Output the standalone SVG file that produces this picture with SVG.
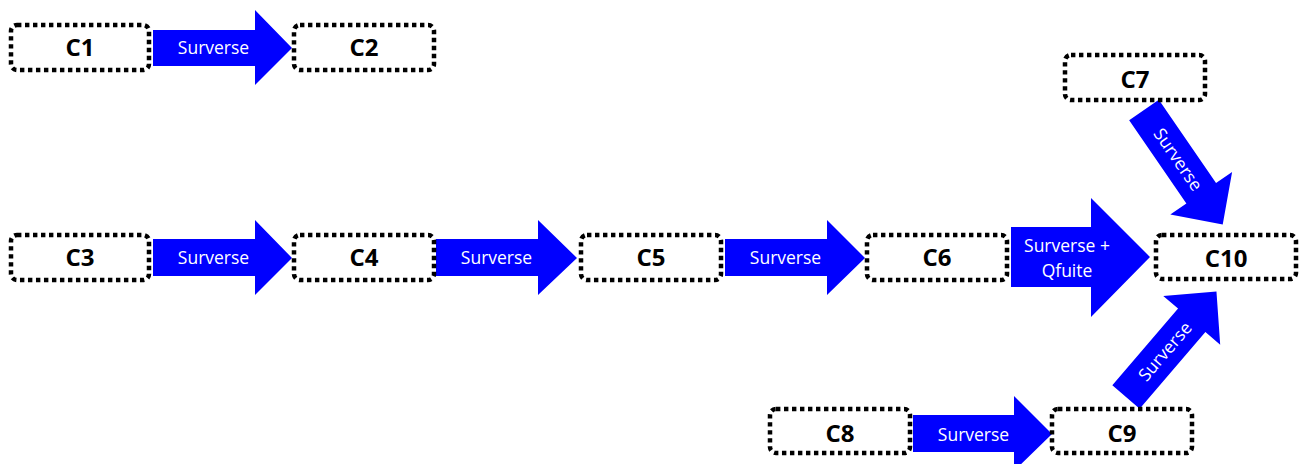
<svg xmlns="http://www.w3.org/2000/svg" width="1302" height="464" viewBox="0 0 1302 464">
<style>
.box{fill:#fff;stroke:#000;stroke-width:4.5;stroke-dasharray:4.4 3.6}
.lbl{font-family:"Open Sans","Liberation Sans",sans-serif;font-weight:bold;font-size:24px;fill:#000;text-anchor:middle}
.arr{fill:#0000FF}
.at{font-family:"Open Sans","Liberation Sans",sans-serif;font-size:17.5px;fill:#fff;text-anchor:middle}
</style>
<defs>
<path id="ah" d="M0,-18 H101 V-37.5 L139,0 L101,37.5 V18 H0 Z"/>
</defs>
<g id="connectors">
<g id="e1"><path class="arr" d="M153,30 H255 V10 L292,48 L255,85 V66 H153 Z"/><text class="at" x="213.5" y="54">Surverse</text></g>
<g id="e2"><path class="arr" d="M153,239 H255 V220 L292,258 L255,295 V276 H153 Z"/><text class="at" x="213.5" y="264">Surverse</text></g>
<g id="e3"><path class="arr" d="M436,239 H538 V220 L577,258 L538,295 V276 H436 Z"/><text class="at" x="496.5" y="264">Surverse</text></g>
<g id="e4"><path class="arr" d="M725,239 H827 V220 L865,258 L827,295 V276 H725 Z"/><text class="at" x="785.5" y="264">Surverse</text></g>
<g id="e5"><path class="arr" d="M1011,227 H1091 V198 L1150,257 L1091,317 V287 H1011 Z"/><text class="at" x="1067" y="252">Surverse +</text><text class="at" x="1067" y="277">Qfuite</text></g>
<g id="e6"><path class="arr" d="M913,415 H1014 V396 L1052,434 L1014,471 V452 H913 Z"/><text class="at" x="973.5" y="441">Surverse</text></g>
<g id="e7" transform="translate(1144,110) rotate(55.5)"><use href="#ah" class="arr"/><text class="at" x="60" y="6">Surverse</text></g>
<g id="e8" transform="translate(1126,397) rotate(-49.4)"><use href="#ah" class="arr"/><text class="at" x="60" y="6">Surverse</text></g>
</g>
<g id="C1"><rect class="box" x="11" y="25" width="138" height="45" rx="6"/><text class="lbl" x="80" y="56">C1</text></g>
<g id="C2"><rect class="box" x="294" y="25" width="140" height="45" rx="6"/><text class="lbl" x="364" y="56">C2</text></g>
<g id="C3"><rect class="box" x="11" y="235" width="138" height="45" rx="6"/><text class="lbl" x="80" y="266">C3</text></g>
<g id="C4"><rect class="box" x="294" y="235" width="140" height="45" rx="6"/><text class="lbl" x="364" y="266">C4</text></g>
<g id="C5"><rect class="box" x="581" y="235" width="140" height="45" rx="6"/><text class="lbl" x="651" y="266">C5</text></g>
<g id="C6"><rect class="box" x="867" y="235" width="140" height="45" rx="6"/><text class="lbl" x="937" y="266">C6</text></g>
<g id="C7"><rect class="box" x="1065" y="55" width="140" height="45" rx="6"/><text class="lbl" x="1135" y="88">C7</text></g>
<g id="C8"><rect class="box" x="770" y="409" width="140" height="44" rx="6"/><text class="lbl" x="840" y="442">C8</text></g>
<g id="C9"><rect class="box" x="1052" y="409" width="140" height="44" rx="6"/><text class="lbl" x="1122" y="442">C9</text></g>
<g id="C10"><rect class="box" x="1156" y="235" width="140" height="44" rx="6"/><text class="lbl" x="1226" y="267">C10</text></g>
</svg>
